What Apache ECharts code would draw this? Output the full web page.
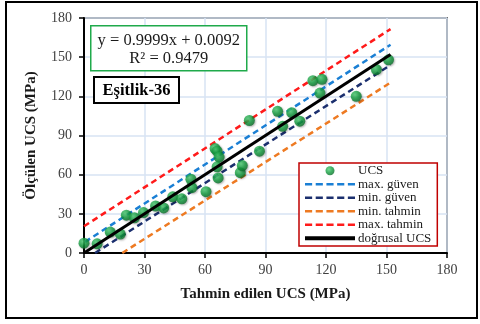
<!DOCTYPE html>
<html>
<head>
<meta charset="utf-8">
<style>
  html, body { margin: 0; padding: 0; background: #fff; }
  #chart { width: 480px; height: 324px; }
</style>
<script src="https://cdn.jsdelivr.net/npm/echarts@6/dist/echarts.min.js"></script>
</head>
<body>
<div id="chart"></div>
<script>
// ölçülen / tahmin edilen UCS noktaları (MPa)
var tahminX = [0, 6.5, 13, 18, 21, 25, 29.5, 35.5, 39.5, 44, 48.5, 53, 53.5, 60.5, 65, 66, 67, 66, 66.5,
  77.5, 78.5, 82, 87, 96, 98.5, 103, 107, 113.5, 117, 118, 135, 145, 151]
var olculenY = [7.5, 7, 16, 14.5, 29, 27, 31, 36, 34.5, 43, 41.5, 56.5, 50, 47, 80, 78, 73.5, 66, 57.5,
  61.5, 67, 101.5, 78, 108.5, 97, 107.5, 101, 132, 122.5, 133, 120, 140.5, 148]

// çizgi uç noktaları
var dogrusal = [[0, 0.01], [152, 152]]
var maxGuven = [[0.5, 8.5], [152, 159.5]]
var minGuven = [[5.5, 0], [152, 144]]
var minTahmin = [[19, 0], [152, 130.5]]
var maxTahmin = [[0, 20.5], [152, 171.5]]

var serif = '"Liberation Serif", "Times New Roman", serif'
var colors = {
  ucs: '#109a3c',
  maxGuven: '#1a7fd4',
  minGuven: '#1b2f6e',
  minTahmin: '#ee7a22',
  maxTahmin: '#ff1a1a',
  dogrusal: '#000000'
}

// legend icons: dashed and solid strokes
var dashIcon = 'path://M0,0h7v2.5h-7z M10.5,0h7v2.5h-7z M21,0h7v2.5h-7z M31.5,0h7v2.5h-7z M42,0h7v2.5h-7z'
var solidIcon = 'path://M0,0h49v4h-49z'

var chart = echarts.init(document.getElementById('chart'))

function dashed(name, data, color) {
  return {
    name: name,
    type: 'line',
    data: data,
    showSymbol: false,
    symbol: 'none',
    silent: true,
    z: 3,
    lineStyle: { color: color, width: 2.5, type: [6, 4] },
    itemStyle: { color: color }
  }
}

var ucsPoints = tahminX.map(function (x, i) { return [x, olculenY[i]] })

chart.setOption({
  animation: false,
  backgroundColor: '#fff',
  grid: {
    left: 84, right: 33, top: 18, bottom: 71,
    show: true,
    borderColor: '#000',
    borderWidth: 1.5
  },
  legend: {
    orient: 'vertical',
    left: 299,
    top: 163,
    width: 139,
    padding: [1, 6, 1, 6],
    itemGap: 0,
    itemWidth: 50,
    itemHeight: 9,
    symbolKeepAspect: true,
    backgroundColor: '#fff',
    borderColor: '#c00000',
    borderWidth: 1.5,
    borderRadius: 0,
    textStyle: { fontFamily: serif, fontSize: 13, lineHeight: 13.5, color: '#1a1a1a', padding: [0, 0, 0, -2] },
    data: [
      { name: 'UCS', icon: 'circle' },
      { name: 'max. güven', icon: dashIcon },
      { name: 'min. güven', icon: dashIcon },
      { name: 'min. tahmin', icon: dashIcon },
      { name: 'max. tahmin', icon: dashIcon },
      { name: 'doğrusal UCS', icon: solidIcon }
    ]
  },
  xAxis: {
    type: 'value',
    min: 0, max: 180, interval: 30,
    name: 'Tahmin edilen UCS (MPa)',
    nameLocation: 'middle',
    nameGap: 34,
    nameTextStyle: { fontFamily: serif, fontSize: 15, fontWeight: 'bold', color: '#1a1a1a' },
    axisLine: { onZero: false, lineStyle: { color: '#000', width: 2 } },
    axisTick: { show: true, length: 5, lineStyle: { color: '#000', width: 1.5 } },
    axisLabel: { margin: 10, fontFamily: serif, fontSize: 14, color: '#404040' },
    splitLine: { show: true, lineStyle: { color: '#d7e3f3', width: 1.5 } }
  },
  yAxis: {
    type: 'value',
    min: 0, max: 180, interval: 30,
    name: 'Ölçülen UCS (MPa)',
    nameLocation: 'middle',
    nameGap: 45,
    nameTextStyle: { fontFamily: serif, fontSize: 15, fontWeight: 'bold', color: '#1a1a1a' },
    axisLine: { show: true, onZero: false, lineStyle: { color: '#000', width: 2 } },
    axisTick: { show: true, length: 5, lineStyle: { color: '#000', width: 1.5 } },
    axisLabel: { margin: 12, fontFamily: serif, fontSize: 14, color: '#404040' },
    splitLine: { show: true, lineStyle: { color: '#d7e3f3', width: 1.5 } }
  },
  series: [
    {
      name: 'UCS',
      type: 'scatter',
      data: ucsPoints,
      symbolSize: 11,
      z: 4,
      itemStyle: {
        color: {
          type: 'radial', x: 0.38, y: 0.35, r: 0.7,
          colorStops: [
            { offset: 0, color: '#4fd077' },
            { offset: 0.55, color: colors.ucs },
            { offset: 1, color: '#0a6a28' }
          ]
        },
        shadowColor: 'rgba(0,0,0,0.35)',
        shadowBlur: 2,
        shadowOffsetX: 1,
        shadowOffsetY: 1
      }
    },
    dashed('max. güven', maxGuven, colors.maxGuven),
    dashed('min. güven', minGuven, colors.minGuven),
    dashed('min. tahmin', minTahmin, colors.minTahmin),
    dashed('max. tahmin', maxTahmin, colors.maxTahmin),
    {
      name: 'doğrusal UCS',
      type: 'line',
      data: dogrusal,
      showSymbol: false,
      symbol: 'none',
      z: 5,
      lineStyle: { color: colors.dogrusal, width: 3 },
      itemStyle: { color: colors.dogrusal }
    }
  ],
  graphic: [
    {
      type: 'rect',
      z: 100,
      shape: { x: 6, y: 2, width: 471, height: 316 },
      style: { fill: null, stroke: '#000', lineWidth: 2 },
      silent: true
    },
    {
      type: 'group',
      left: 90, top: 25,
      z: 100,
      children: [
        {
          type: 'rect',
          z: 100,
          shape: { x: 0, y: 0, width: 156, height: 45 },
          style: { fill: '#fff', stroke: '#1faa4b', lineWidth: 1.5 }
        },
        {
          type: 'text',
          z: 101,
          x: 78, y: 15,
          style: { text: 'y = 0.9999x + 0.0092', fontFamily: serif, fontSize: 16.5,
            fill: '#1a1a1a', align: 'center', verticalAlign: 'middle' }
        },
        {
          type: 'text',
          z: 101,
          x: 78, y: 33,
          style: { text: 'R² = 0.9479', fontFamily: serif, fontSize: 16.5,
            fill: '#1a1a1a', align: 'center', verticalAlign: 'middle' }
        }
      ]
    },
    {
      type: 'group',
      left: 93, top: 76,
      z: 100,
      children: [
        {
          type: 'rect',
          z: 100,
          shape: { x: 0, y: 0, width: 85, height: 26 },
          style: { fill: '#fff', stroke: '#000', lineWidth: 2 }
        },
        {
          type: 'text',
          z: 101,
          x: 42.5, y: 13.5,
          style: { text: 'Eşitlik-36', fontFamily: serif, fontSize: 16.5, fontWeight: 'bold',
            fill: '#000', align: 'center', verticalAlign: 'middle' }
        }
      ]
    }
  ]
})
</script>
</body>
</html>
